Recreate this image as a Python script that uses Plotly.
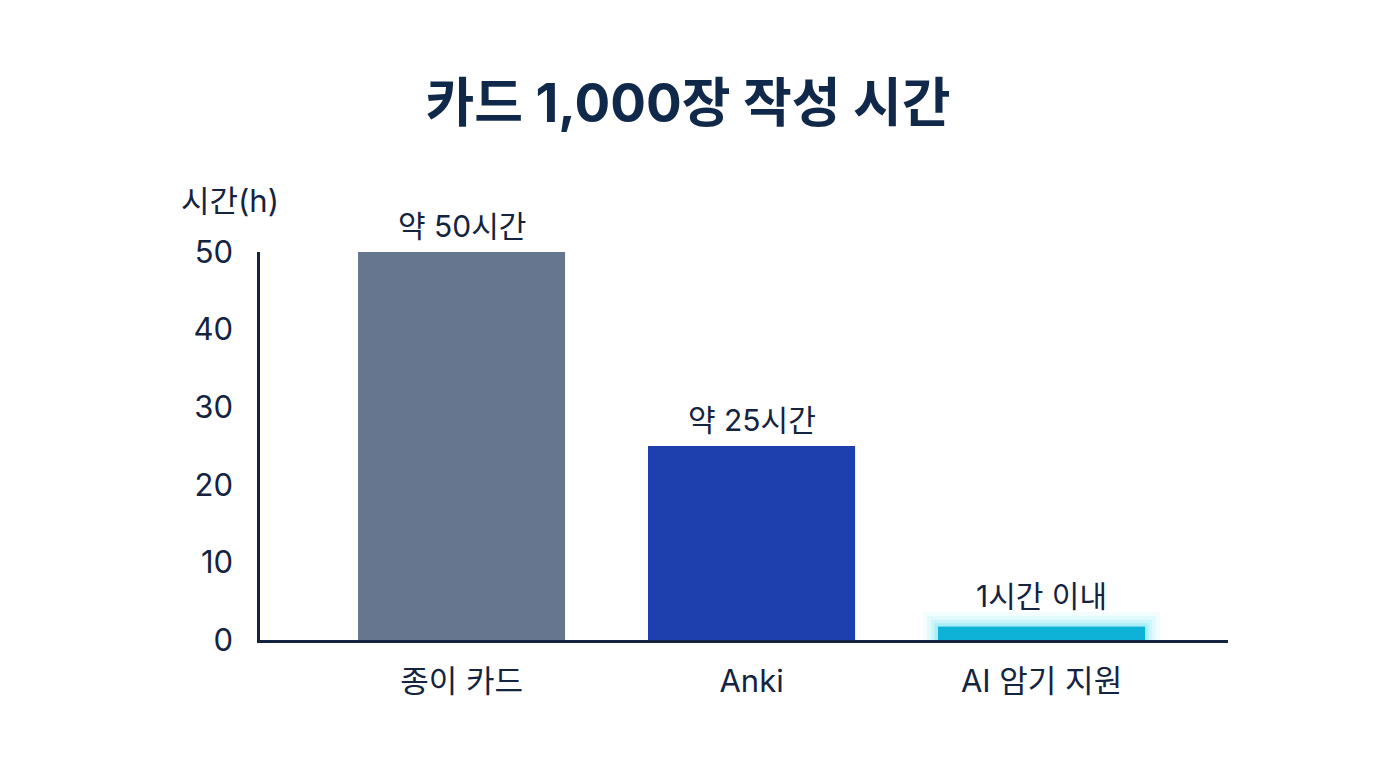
import plotly.graph_objects as go

categories = ["종이 카드", "Anki", "AI 암기 지원"]
values = [50, 25, 1.7]
value_labels = ["약 50시간", "약 25시간", "1시간 이내"]
bar_colors = ["#66768F", "#1E40AF", "#0DB2D6"]
tick_vals = [0, 10, 20, 30, 40, 50]

FONT = "Inter, Noto Sans CJK KR"
TEXT = "#14233F"

fig = go.Figure()

fig.add_trace(go.Bar(
    x=categories, y=values, width=0.714,
    marker=dict(color=bar_colors, line=dict(width=0)),
    showlegend=False,
))

# glow layers for the AI bar
glow_x = [categories[2]]
glow_y = [values[2]]
for lw, a in [(30, 0.05), (22, 0.08), (14, 0.12), (7, 0.2)]:
    fig.add_trace(go.Bar(
        x=glow_x, y=glow_y, width=0.714,
        marker=dict(color="rgba(34,211,238,0)", line=dict(color=f"rgba(34,211,238,{a})", width=lw)),
        hoverinfo="skip", showlegend=False,
    ))

fig.add_trace(go.Bar(
    x=glow_x, y=glow_y, width=0.714,
    marker=dict(color=bar_colors[2], line=dict(width=0)),
    hoverinfo="skip", showlegend=False,
))

for i, (c, v, t) in enumerate(zip(categories, values, value_labels)):
    fig.add_annotation(x=c, y=v, text=t, showarrow=False, yanchor="bottom",
                       yshift=6 if i < 2 else 11,
                       font=dict(family=FONT, size=30, color=TEXT))

fig.add_annotation(xref="paper", yref="paper", x=-0.031, y=1.134, text="시간(h)", showarrow=False,
                   xanchor="center", yanchor="middle", font=dict(family=FONT, size=31, color=TEXT))

fig.update_layout(
    width=1376, height=768,
    paper_bgcolor="white", plot_bgcolor="white",
    barmode="overlay",
    margin=dict(l=260, r=148, t=252, b=128),
    title=dict(text="<b>카드 1,000장 작성 시간</b>", x=0.5, xanchor="center", y=1 - 103 / 768,
               yref="container", yanchor="middle",
               font=dict(family=FONT, size=53, color="#10294A")),
    font=dict(family=FONT, color=TEXT),
    xaxis=dict(range=[-0.695, 2.643], categoryorder="array", categoryarray=categories,
               showline=True, linecolor="#14233F", linewidth=2.5,
               showgrid=False, zeroline=False, ticks="", tickfont=dict(size=31, color=TEXT),
               ticklabelstandoff=12),
    yaxis=dict(range=[0, 50], tickvals=tick_vals, showline=True, linecolor="#14233F", linewidth=2.5,
               showgrid=False, zeroline=False, ticks="", tickfont=dict(size=31, color=TEXT),
               ticklabelstandoff=18),
)

fig.write_html("out.html")
